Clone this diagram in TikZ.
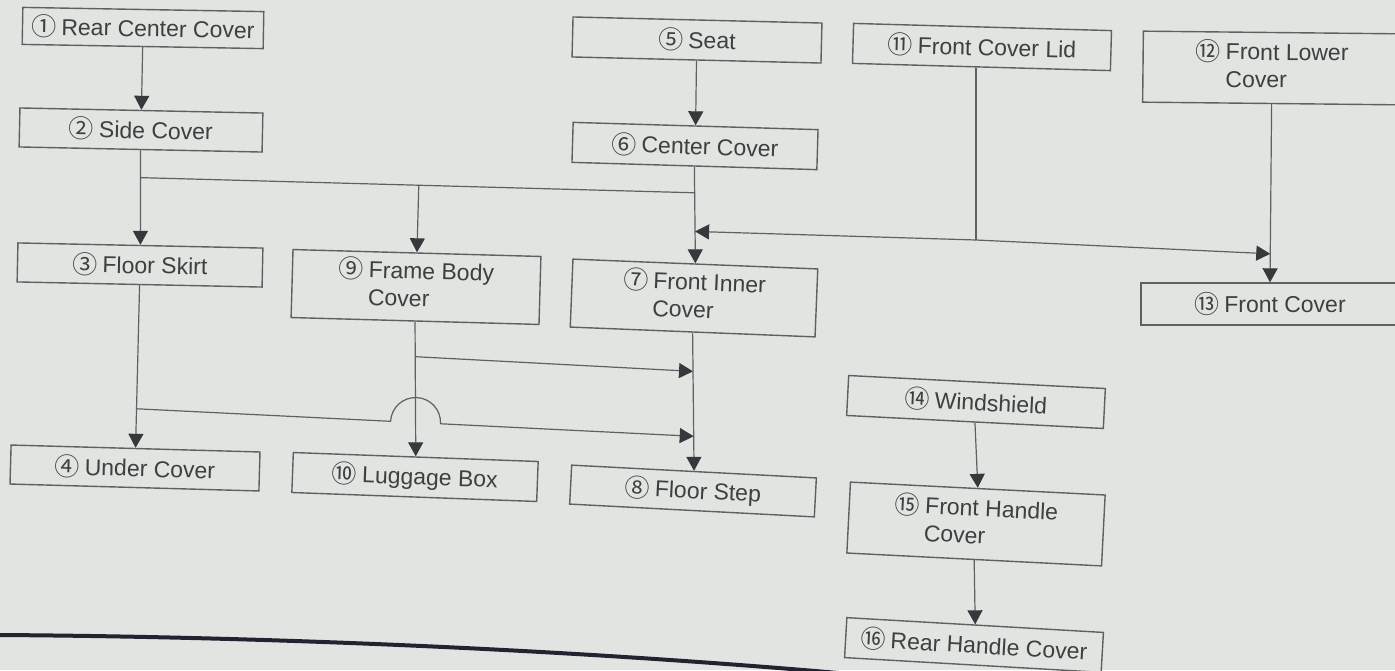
\documentclass[tikz,border=0pt]{standalone}
\usepackage{fontspec}
\setmainfont{Liberation Sans}
\newfontfamily\numf{Noto Sans CJK JP}
\usetikzlibrary{arrows.meta,calc}
\definecolor{bgc}{RGB}{226,228,225}
\definecolor{linec}{RGB}{92,97,97}
\definecolor{textc}{RGB}{62,64,64}
\definecolor{tipc}{RGB}{52,57,60}
\definecolor{rulec}{RGB}{35,35,48}
\newcommand\cnum[1]{\raisebox{-1pt}{\numf\fontsize{25}{26}\selectfont #1}}
\newcommand\oneline[2]{\cnum{#1}\hspace{5pt}#2}
\newcommand\twoline[3]{\begin{tabular}{@{}l@{\hspace{5pt}}l@{}}\cnum{#1}&#2\\&#3\end{tabular}}
\begin{document}
\begin{tikzpicture}[x=1pt,y=1pt,
  box/.style={draw=linec, line width=1.4pt, fill=bgc, text=textc, inner sep=0pt,
    minimum height=39pt, font=\fontsize{23}{27.6}\selectfont},
  conn/.style={draw=linec, line width=1.2pt},
  arr/.style={conn, -{Triangle[width=15pt,length=14pt,color=tipc]}}]
\useasboundingbox (0,0) rectangle (1395,-670);
\clip (0,0) rectangle (1395,-670);
\fill[bgc] (0,0) rectangle (1395,-670);

% nodes
\node[box, minimum width=241pt, minimum height=37pt, rotate=-1.0] (n1) at (143,-28) {\oneline{①}{Rear Center Cover}};
\node[box, minimum width=243pt, rotate=-1.2] (n2) at (141,-130) {\oneline{②}{Side Cover}};
\node[box, minimum width=245pt, rotate=-1.2] (n3) at (140,-265) {\oneline{③}{Floor Skirt}};
\node[box, minimum width=249pt, rotate=-1.6] (n4) at (135,-468) {\oneline{④}{Under Cover}};
\node[box, minimum width=249pt, minimum height=40pt, rotate=-1.4] (n5) at (697,-40) {\oneline{⑤}{Seat}};
\node[box, minimum width=245pt, minimum height=40pt, rotate=-1.7] (n6) at (695,-146) {\oneline{⑥}{Center Cover}};
\node[box, minimum width=245pt, minimum height=68pt, rotate=-2.3] (n7) at (694,-298) {\twoline{⑦}{Front Inner}{Cover}};
\node[box, minimum width=245pt, rotate=-3.0] (n8) at (693,-491) {\oneline{⑧}{Floor Step}};
\node[box, minimum width=248pt, minimum height=68pt, rotate=-1.6] (n9) at (416,-287) {\twoline{⑨}{Frame Body}{Cover}};
\node[box, minimum width=245pt, minimum height=40pt, rotate=-2.1] (n10) at (415,-477) {\oneline{⑩}{Luggage Box}};
\node[box, minimum width=258pt, minimum height=40pt, rotate=-1.6] (n11) at (982,-47) {\oneline{⑪}{Front Cover Lid}};
\node[box, minimum width=258pt, minimum height=71pt, rotate=-0.6] (n12) at (1272,-68) {\twoline{⑫}{Front Lower}{Cover}};
\node[box, minimum width=258pt, minimum height=42pt] (n13) at (1270,-304) {\oneline{⑬}{Front Cover}};
\node[box, minimum width=257pt, minimum height=40pt, rotate=-2.9] (n14) at (976,-402) {\oneline{⑭}{Windshield}};
\node[box, minimum width=255pt, minimum height=71pt, rotate=-2.9] (n15) at (976,-524) {\twoline{⑮}{Front Handle}{Cover}};
\node[box, minimum width=257pt, minimum height=40pt, rotate=-3.3] (n16) at (974,-645) {\oneline{⑯}{Rear Handle Cover}};

% junction coordinates
\coordinate (j2) at ($(n2.south)!0.29!(n3.north)$);
\coordinate (j6) at ($(n6.south)!0.27!(n7.north)$);
\coordinate (j9) at ($(j2)!(n9.north)!(j6)$);
\coordinate (jL) at ($(n6.south)!0.67!(n7.north)$);
\coordinate (j11) at (976,-240);
\coordinate (jR) at ($(n12.south)!0.84!(n13.north)$);
\coordinate (j9b) at ($(n9.south)!0.26!(n10.north)$);
\coordinate (jA) at ($(n7.south)!0.28!(n8.north)$);
\coordinate (j3) at ($(n3.south)!0.76!(n4.north)$);
\coordinate (jB) at ($(n7.south)!0.75!(n8.north)$);
\coordinate (X) at (intersection of j3--jB and n9.south--n10.north);

% connectors
\draw[arr] (n1.south) -- (n2.north);
\draw[arr] (n2.south) -- (n3.north);
\draw[conn] (j2) -- (j6);
\draw[arr] (j9) -- (n9.north);
\draw[arr] (n5.south) -- (n6.north);
\draw[arr] (n6.south) -- (n7.north);
\draw[conn] (j11 |- n11.south) -- (j11);
\draw[arr] (j11) -- (jL);
\draw[arr] (j11) -- (jR);
\draw[arr] (n12.south) -- (n13.north);
\draw[arr] (n9.south) -- (n10.north);
\draw[arr] (j9b) -- (jA);
\draw[arr] (n7.south) -- (n8.north);
\draw[arr] (n3.south) -- (n4.north);
\draw[arr] let \p1=($(jB)-(j3)$), \n1={atan2(\y1,\x1)} in
  (j3) -- ($(X)!25pt!(j3)$) arc[start angle=180+\n1, end angle=\n1, radius=25pt] -- (jB);
\draw[arr] (n14.south) -- (n15.north);
\draw[arr] (n15.south) -- (n16.north);

% page rule
\draw[line width=4pt, draw=rulec] (0,-635) .. controls (300,-637) and (600,-652) .. (850,-674);
\end{tikzpicture}
\end{document}
